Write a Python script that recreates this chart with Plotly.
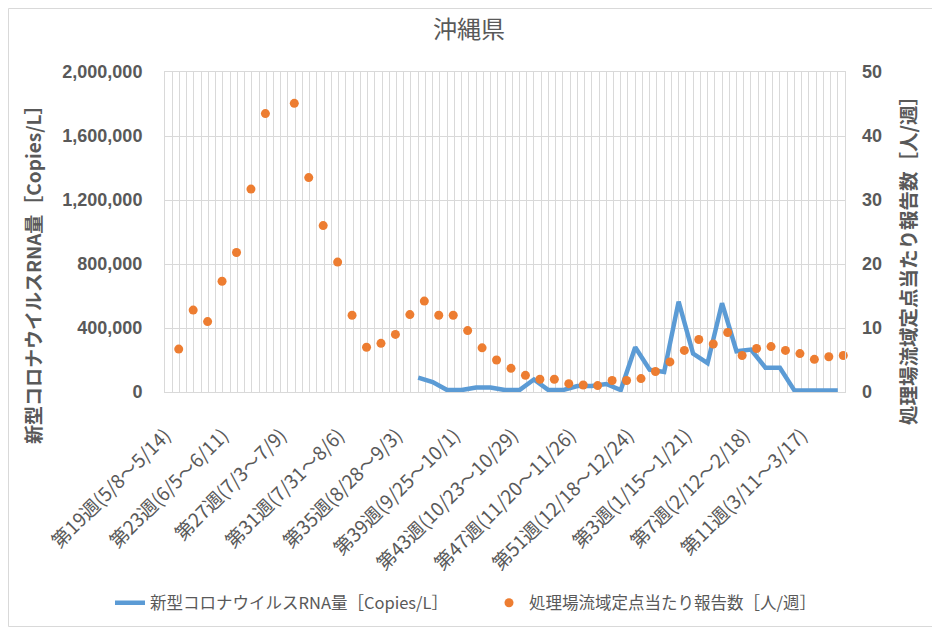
import plotly.graph_objects as go

# ---------------------------------------------------------------------------
# Data
# ---------------------------------------------------------------------------

week_labels = [
    "第19週(5/8～5/14)", "第20週(5/15～5/21)", "第21週(5/22～5/28)", "第22週(5/29～6/4)",
    "第23週(6/5～6/11)", "第24週(6/12～6/18)", "第25週(6/19～6/25)", "第26週(6/26～7/2)",
    "第27週(7/3～7/9)", "第28週(7/10～7/16)", "第29週(7/17～7/23)", "第30週(7/24～7/30)",
    "第31週(7/31～8/6)", "第32週(8/7～8/13)", "第33週(8/14～8/20)", "第34週(8/21～8/27)",
    "第35週(8/28～9/3)", "第36週(9/4～9/10)", "第37週(9/11～9/17)", "第38週(9/18～9/24)",
    "第39週(9/25～10/1)", "第40週(10/2～10/8)", "第41週(10/9～10/15)", "第42週(10/16～10/22)",
    "第43週(10/23～10/29)", "第44週(10/30～11/5)", "第45週(11/6～11/12)", "第46週(11/13～11/19)",
    "第47週(11/20～11/26)", "第48週(11/27～12/3)", "第49週(12/4～12/10)", "第50週(12/11～12/17)",
    "第51週(12/18～12/24)", "第52週(12/25～12/31)", "第1週(1/1～1/7)", "第2週(1/8～1/14)",
    "第3週(1/15～1/21)", "第4週(1/22～1/28)", "第5週(1/29～2/4)", "第6週(2/5～2/11)",
    "第7週(2/12～2/18)", "第8週(2/19～2/25)", "第9週(2/26～3/3)", "第10週(3/4～3/10)",
    "第11週(3/11～3/17)", "第12週(3/18～3/24)", "第13週(3/25～3/31)",
]

# wastewater RNA copies/L (no data before week 36)
rna_copies = [
    None, None, None, None, None, None, None, None, None, None, None, None,
    None, None, None, None, None,
    90000, 62000, 12000, 12000, 28000, 28000, 12000, 12000, 78000, 12000,
    12000, 37000, 37000, 50000, 12000, 280000, 140000, 125000, 565000, 240000,
    180000, 555000, 255000, 265000, 152000, 152000, 10000, 10000, 10000, 10000,
]

# sentinel reports per site (persons/week)
reports_per_site = [
    6.7, 12.8, 11.0, 17.3, 21.8, 31.7, 43.5, None, 45.1, 33.5, 26.0, 20.3,
    12.0, 7.0, 7.6, 9.0, 12.1, 14.2, 12.0, 12.0, 9.6, 6.9, 5.0, 3.7,
    2.6, 2.0, 2.0, 1.3, 1.1, 1.0, 1.8, 1.8, 2.1, 3.2, 4.7, 6.5,
    8.2, 7.5, 9.3, 5.7, 6.8, 7.1, 6.5, 6.0, 5.1, 5.5, 5.7,
]

label_step = 4

# ---------------------------------------------------------------------------
# Styling
# ---------------------------------------------------------------------------

# the page body adds an 8px margin, so the figure is drawn 8px smaller
PAGE_OFF = 8
W, H = 940 - PAGE_OFF, 627 - PAGE_OFF
M_L, M_R, M_T, M_B = 157, 95, 64, 235
PW, PH = W - M_L - M_R, H - M_T - M_B

GRID = "#D9D9D9"
TEXT = "#595959"
BLUE = "#5B9BD5"
ORANGE = "#ED7D31"
FONT = "Liberation Sans, Noto Sans CJK JP, sans-serif"
JP = "Noto Sans CJK JP"


def px_x(sx):
    """screen x -> paper x"""
    return (sx - PAGE_OFF - M_L) / PW


def px_y(sy):
    """screen y -> paper y"""
    return (H - M_B - (sy - PAGE_OFF)) / PH


def legend_at(sx, sy):
    return dict(
        orientation="h",
        x=(sx - PAGE_OFF) / W, xref="container", xanchor="left",
        y=1 - (sy - PAGE_OFF) / H, yref="container", yanchor="middle",
        font=dict(size=16.5, color=TEXT, family=JP),
        itemwidth=30,
        bgcolor="rgba(0,0,0,0)",
    )


idx = list(range(len(week_labels)))

fig = go.Figure()

fig.add_trace(
    go.Scatter(
        x=idx,
        y=rna_copies,
        mode="lines",
        name="新型コロナウイルスRNA量［Copies/L］",
        line=dict(color=BLUE, width=4.5),
        xaxis="x",
        yaxis="y",
        legend="legend",
    )
)

fig.add_trace(
    go.Scatter(
        x=idx,
        y=reports_per_site,
        mode="markers",
        name="処理場流域定点当たり報告数［人/週］",
        marker=dict(color=ORANGE, size=9),
        cliponaxis=False,
        xaxis="x2",
        yaxis="y2",
        legend="legend2",
    )
)

tick_pos = idx[::label_step]
tick_txt = week_labels[::label_step]

fig.update_layout(
    width=W,
    height=H,
    margin=dict(l=M_L, r=M_R, t=M_T, b=M_B, autoexpand=False),
    paper_bgcolor="white",
    plot_bgcolor="white",
    font=dict(family=FONT, color=TEXT),
    title=dict(
        text="沖縄県",
        x=(469 - PAGE_OFF) / W, xref="container", xanchor="center",
        y=1 - (30 - PAGE_OFF) / H, yref="container", yanchor="middle",
        font=dict(size=24, color=TEXT, family=JP),
    ),
    showlegend=True,
    legend=legend_at(110, 603),
    legend2=legend_at(489, 603),
    xaxis=dict(
        range=[-0.5, len(idx) - 0.5],
        tickmode="array",
        tickvals=tick_pos,
        ticktext=tick_txt,
        tickangle=-45,
        tickfont=dict(size=19, color=TEXT, family=JP),
        ticks="outside",
        ticklen=24,
        tickcolor="rgba(0,0,0,0)",
        ticklabelshift=-7,
        showgrid=True,
        gridcolor=GRID,
        minor=dict(tick0=-0.5, dtick=0.5, showgrid=True, gridcolor=GRID, ticks=""),
        showline=True,
        linecolor=GRID,
        mirror=True,
        zeroline=False,
    ),
    xaxis2=dict(
        overlaying="x",
        range=[-0.95, len(idx) - 0.88],
        visible=False,
    ),
    yaxis=dict(
        range=[0, 2000000],
        dtick=400000,
        tickformat=",",
        tickfont=dict(size=18, color=TEXT, family=FONT, weight="bold"),
        ticklabelstandoff=18,
        showgrid=True,
        gridcolor=GRID,
        showline=True,
        linecolor=GRID,
        mirror=True,
        zeroline=False,
    ),
    yaxis2=dict(
        overlaying="y",
        side="right",
        anchor="x",
        range=[0, 50],
        dtick=10,
        tickfont=dict(size=18, color=TEXT, family=FONT, weight="bold"),
        ticklabelstandoff=16,
        showgrid=False,
        zeroline=False,
    ),
    annotations=[
        dict(
            text="新型コロナウイルスRNA量［Copies/L］",
            xref="paper", yref="paper",
            x=px_x(32), y=px_y(270),
            textangle=-90, showarrow=False,
            xanchor="center", yanchor="middle",
            font=dict(size=19, color=TEXT, family=JP, weight="bold"),
        ),
        dict(
            text="処理場流域定点当たり報告数［人/週］",
            xref="paper", yref="paper",
            x=px_x(907), y=px_y(255),
            textangle=-90, showarrow=False,
            xanchor="center", yanchor="middle",
            font=dict(size=19.5, color=TEXT, family=JP, weight="bold"),
        ),
    ],
    shapes=[
        dict(
            type="rect",
            xref="paper", yref="paper",
            x0=-(M_L - 0.5) / PW, x1=(PW + M_R - 0.5) / PW,
            y0=-(M_B - 0.5) / PH, y1=(PH + M_T - 0.5) / PH,
            line=dict(color=GRID, width=1),
            layer="below",
        )
    ],
)

fig.write_html("out.html")
